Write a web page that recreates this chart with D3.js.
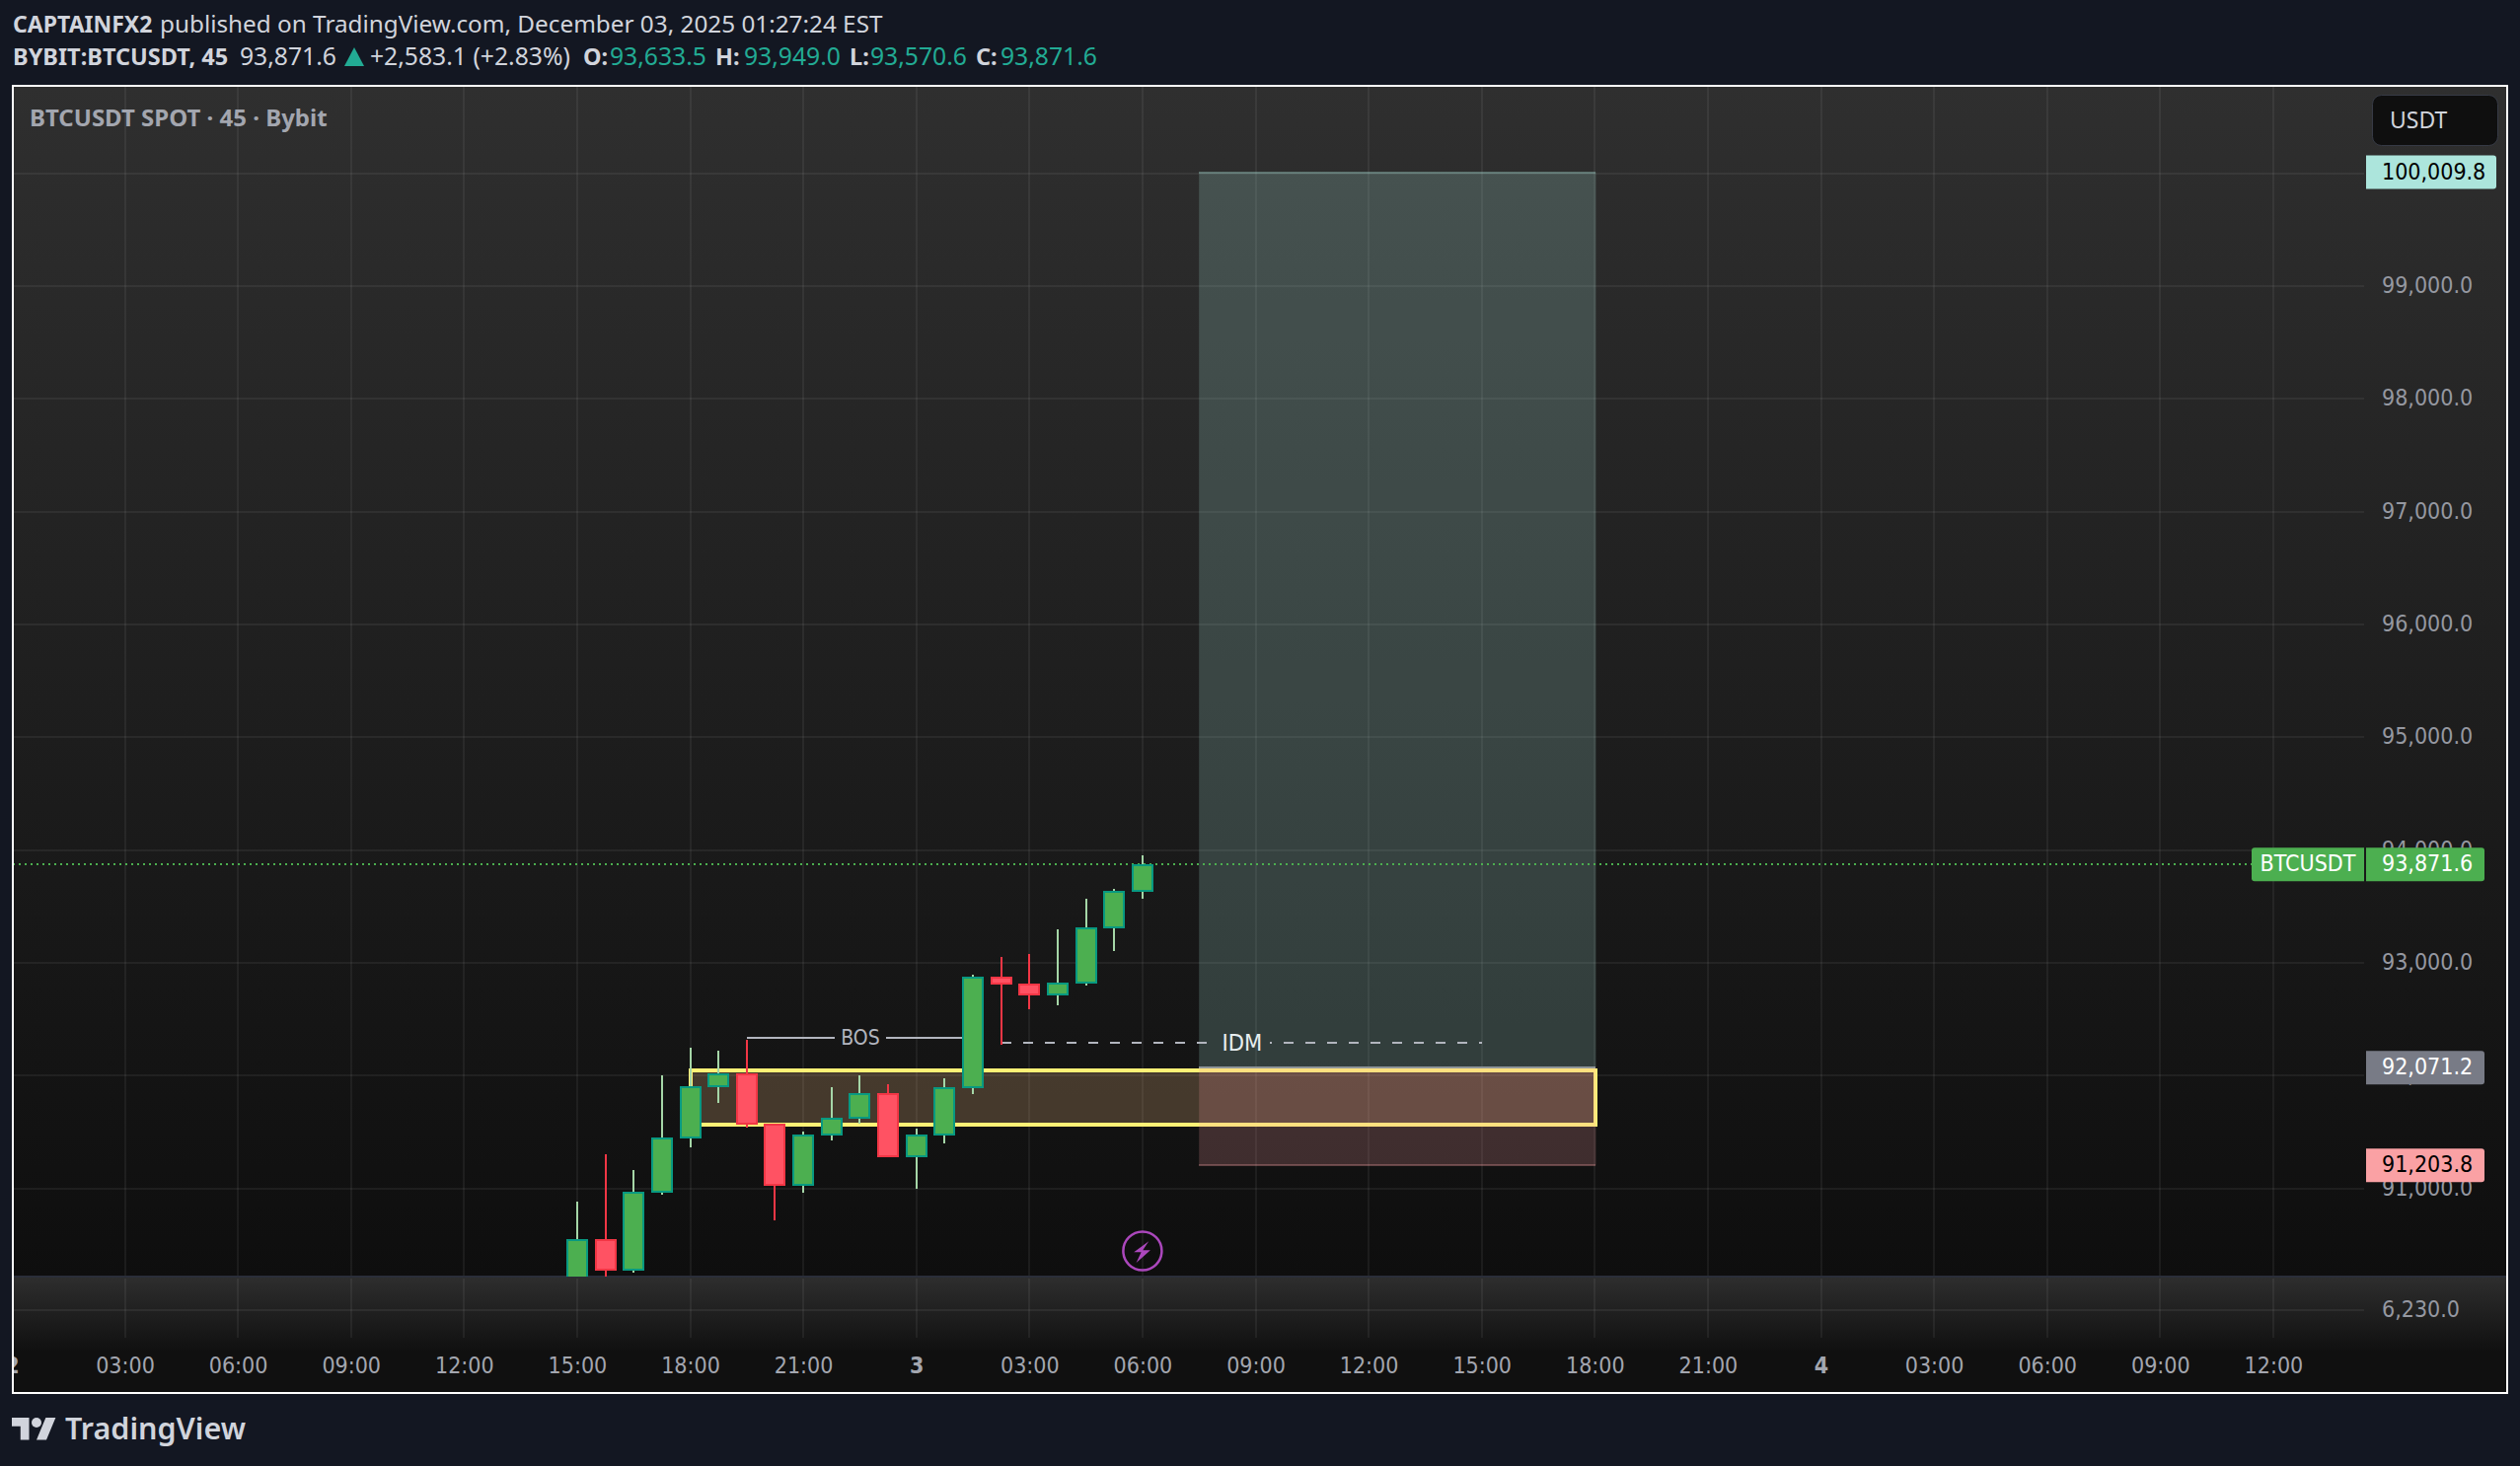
<!DOCTYPE html>
<html>
<head>
<meta charset="utf-8">
<script src="https://cdn.jsdelivr.net/npm/d3@7"></script>
<style>
html, body { margin: 0; padding: 0; background: #131722; overflow: hidden; }
text { font-family: "Noto Sans", sans-serif; }
.axis text, .plabel, .draw { font-family: "DejaVu Sans", sans-serif; font-stretch: condensed; }
.axis text, .plabel { font-size: 23px; }
</style>
</head>
<body>
<div id="chart-area"></div>
<script>
// candles, time = hours since Dec 2 00:00
var candleHours = [15, 15.75, 16.5, 17.25, 18, 18.75, 19.5, 20.25, 21, 21.75, 22.5, 23.25, 24, 24.75, 25.5, 26.25, 27, 27.75, 28.5, 29.25, 30];
var opens  = [90200, 90550, 90270, 90962, 91443, 91898, 92020, 91574, 91023, 91469, 91618, 91845, 91276, 91469, 91889, 92878, 92816, 92711, 92816, 93306, 93633.5];
var highs  = [90883, 91303, 91163, 92003, 92248, 92221, 92318, 91574, 91504, 91898, 92003, 91924, 91530, 91976, 92895, 93052, 93079, 93297, 93569, 93656, 93949.0];
var lows   = [90150, 90200, 90253, 90944, 91364, 91758, 91539, 90717, 90962, 91425, 91574, 91276, 90997, 91399, 91836, 92274, 92589, 92624, 92799, 93105, 93570.6];
var closes = [90550, 90270, 90970, 91451, 91906, 92020, 91565, 91023, 91478, 91626, 91845, 91276, 91478, 91898, 92878, 92808, 92711, 92825, 93315, 93639, 93871.6];

// axes
var priceTicks = [91000, 92000, 93000, 94000, 95000, 96000, 97000, 98000, 99000, 100000];
var paneTicks = [6230];
var timeTicks = [0, 3, 6, 9, 12, 15, 18, 21, 24, 27, 30, 33, 36, 39, 42, 45, 48, 51, 54, 57, 60];
var timeLabels = ["2", "03:00", "06:00", "09:00", "12:00", "15:00", "18:00", "21:00", "3", "03:00", "06:00", "09:00", "12:00", "15:00", "18:00", "21:00", "4", "03:00", "06:00", "09:00", "12:00"];

// drawings
var lastPrice = 93871.6;
var targetPrice = 100009.8, entryPrice = 92071.2, stopPrice = 91203.8;
var positionHours = [31.5, 42.03];
var zonePrices = [92046, 91565], zoneHours = [18, 42.02];
var bosPrice = 92338, bosHours = [19.5, 25.5], bosGapHours = [21.84, 23.2];
var idmPrice = 92294, idmHours = [26.25, 39], idmGapHours = [31.73, 33.38];

var width = 2554, height = 1486;
var frame = {left: 13, right: 2541, top: 87, bottom: 1412};
var paneBottom = 1294, pane2Bottom = 1356, axisLeft = 2396;

var x = d3.scaleLinear().domain([3, 60]).range([126.5, 2303.9]);
var y = d3.scaleLinear().domain([93000, 99000]).range([976, 290]);
var y2 = d3.scaleLinear().domain([6230, 6231]).range([1328, 1327]);

var svg = d3.select("#chart-area")
	.append("svg")
	.attr("width", width)
	.attr("height", height)
	.style("display", "block");

var defs = svg.append("defs");

function gradient(id, stops) {
	var g = defs.append("linearGradient").attr("id", id)
		.attr("x1", 0).attr("x2", 0).attr("y1", 0).attr("y2", 1);
	stops.forEach(function (s) {
		g.append("stop").attr("offset", s[0]).attr("stop-color", s[1]);
	});
}
gradient("paneBg", [[0, "#2f2f2f"], [1, "#0e0e0e"]]);
gradient("pane2Bg", [[0, "#2e2e2e"], [1, "#101010"]]);

defs.append("clipPath").attr("id", "paneClip").append("rect")
	.attr("x", frame.left).attr("y", frame.top)
	.attr("width", axisLeft - frame.left).attr("height", paneBottom - frame.top);
defs.append("clipPath").attr("id", "frameClip").append("rect")
	.attr("x", frame.left).attr("y", frame.top)
	.attr("width", frame.right - frame.left).attr("height", frame.bottom - frame.top);

// header
function label(txt, px, py, size, color, weight) {
	return svg.append("text").attr("x", px).attr("y", py)
		.attr("font-size", size + "px").attr("fill", color)
		.attr("font-weight", weight || 400).text(txt);
}
var headColor = "#d1d4dc", teal = "#22ab94";
label("CAPTAINFX2", 13, 33, 23, headColor, 700);
label("published on TradingView.com, December 03, 2025 01:27:24 EST", 162, 33, 24.3, headColor);
label("BYBIT:BTCUSDT, 45", 13, 66, 23.5, headColor, 700);
label("93,871.6", 243, 66, 24.7, headColor);
svg.append("path").attr("d", "M349,67L359,48L369,67Z").attr("fill", teal);
label("+2,583.1 (+2.83%)", 375, 66, 24.7, headColor);
label("O:", 591, 66, 23.5, headColor, 700);
label("93,633.5", 618, 66, 24.7, teal);
label("H:", 725, 66, 23.5, headColor, 700);
label("93,949.0", 754, 66, 24.7, teal);
label("L:", 861, 66, 23.5, headColor, 700);
label("93,570.6", 882, 66, 24.7, teal);
label("C:", 989, 66, 23.5, headColor, 700);
label("93,871.6", 1014, 66, 24.7, teal);

// backgrounds
svg.append("rect").attr("x", frame.left).attr("y", frame.top)
	.attr("width", frame.right - frame.left).attr("height", paneBottom - frame.top)
	.attr("fill", "url(#paneBg)");
svg.append("rect").attr("x", frame.left).attr("y", paneBottom)
	.attr("width", frame.right - frame.left).attr("height", 76)
	.attr("fill", "url(#pane2Bg)");
svg.append("rect").attr("x", frame.left).attr("y", paneBottom + 76)
	.attr("width", frame.right - frame.left).attr("height", frame.bottom - paneBottom - 76)
	.attr("fill", "#101010");
svg.append("rect").attr("x", frame.left).attr("y", paneBottom - 1)
	.attr("width", frame.right - frame.left).attr("height", 2)
	.attr("fill", "#2a2e39");

// grid
var gridColor = "rgba(255,255,255,0.06)";
var grid = svg.append("g").attr("clip-path", "url(#frameClip)").attr("shape-rendering", "crispEdges");
grid.selectAll(".vgrid").data(timeTicks).enter().append("line")
	.attr("x1", function (d) { return x(d); }).attr("x2", function (d) { return x(d); })
	.attr("y1", frame.top).attr("y2", paneBottom - 1)
	.attr("stroke", gridColor).attr("stroke-width", 2);
grid.selectAll(".vgrid2").data(timeTicks).enter().append("line")
	.attr("x1", function (d) { return x(d); }).attr("x2", function (d) { return x(d); })
	.attr("y1", paneBottom + 2).attr("y2", pane2Bottom)
	.attr("stroke", gridColor).attr("stroke-width", 2);
grid.selectAll(".hgrid").data(priceTicks).enter().append("line")
	.attr("x1", frame.left).attr("x2", axisLeft)
	.attr("y1", function (d) { return y(d); }).attr("y2", function (d) { return y(d); })
	.attr("stroke", gridColor).attr("stroke-width", 2);
grid.selectAll(".hgrid2").data(paneTicks).enter().append("line")
	.attr("x1", frame.left).attr("x2", axisLeft)
	.attr("y1", function (d) { return y2(d); }).attr("y2", function (d) { return y2(d); })
	.attr("stroke", gridColor).attr("stroke-width", 2);

// price and time axes
var priceFormat = d3.format(",.1f");
function styleAxis(g) {
	g.select(".domain").remove();
	g.selectAll("text").attr("fill", "#9598a1");
}
svg.append("g").attr("class", "axis")
	.attr("transform", "translate(" + axisLeft + ",0)")
	.call(d3.axisRight(y).tickValues(priceTicks).tickFormat(priceFormat).tickSize(0).tickPadding(18))
	.call(styleAxis)
	.selectAll("text").attr("dy", "0.28em");
svg.append("g").attr("class", "axis")
	.attr("transform", "translate(" + axisLeft + ",0)")
	.call(d3.axisRight(y2).tickValues(paneTicks).tickFormat(priceFormat).tickSize(0).tickPadding(18))
	.call(styleAxis)
	.selectAll("text").attr("dy", "0.28em");
var timeAxis = svg.append("g").attr("clip-path", "url(#frameClip)")
	.append("g").attr("class", "axis")
	.attr("transform", "translate(0," + pane2Bottom + ")")
	.call(d3.axisBottom(x).tickValues(timeTicks).tickFormat(function (d, i) { return timeLabels[i]; }).tickSize(0).tickPadding(20))
	.call(styleAxis);
timeAxis.selectAll("text")
	.attr("font-weight", function (d, i) { return timeLabels[i].length == 1 ? 700 : 400; })
	.attr("fill", "#a3a6af");

// chart drawings, clipped to the main pane
var chart = svg.append("g").attr("clip-path", "url(#paneClip)");

// yellow zone
chart.append("rect")
	.attr("x", x(zoneHours[0]))
	.attr("y", y(zonePrices[0]))
	.attr("width", x(zoneHours[1]) - x(zoneHours[0]))
	.attr("height", y(zonePrices[1]) - y(zonePrices[0]))
	.attr("fill", "rgba(250,195,135,0.22)")
	.attr("stroke", "#fff176")
	.attr("stroke-width", 4)
	.attr("shape-rendering", "crispEdges");

// position tool
var px0 = x(positionHours[0]), px1 = x(positionHours[1]);
chart.append("rect").attr("x", px0).attr("width", px1 - px0)
	.attr("y", y(targetPrice)).attr("height", y(entryPrice) - y(targetPrice))
	.attr("fill", "rgba(172,229,220,0.2)");
chart.append("rect").attr("x", px0).attr("width", px1 - px0)
	.attr("y", y(entryPrice)).attr("height", y(stopPrice) - y(entryPrice))
	.attr("fill", "rgba(250,161,164,0.2)");
chart.selectAll(".posline").data([[targetPrice, "rgba(172,229,220,0.3)"], [entryPrice, "#8f9598"], [stopPrice, "rgba(250,161,164,0.3)"]])
	.enter().append("line")
	.attr("x1", px0).attr("x2", px1)
	.attr("y1", function (d) { return y(d[0]); }).attr("y2", function (d) { return y(d[0]); })
	.attr("stroke", function (d) { return d[1]; }).attr("stroke-width", 2)
	.attr("shape-rendering", "crispEdges");

// BOS and IDM lines
function segment(h0, h1, price, color, startH) {
	var l = chart.append("line")
		.attr("x1", x(h0)).attr("x2", x(h1))
		.attr("y1", y(price)).attr("y2", y(price))
		.attr("stroke", color).attr("stroke-width", 2)
		.attr("shape-rendering", "crispEdges");
	// keep the dash phase running through the gap
	if (startH !== undefined) {
		l.attr("stroke-dasharray", "10 12").attr("stroke-dashoffset", (x(h0) - x(startH)) % 22);
	}
}
segment(bosHours[0], bosGapHours[0], bosPrice, "#b2b5be");
segment(bosGapHours[1], bosHours[1], bosPrice, "#b2b5be");
segment(idmHours[0], idmGapHours[0], idmPrice, "#b2b5be", idmHours[0]);
segment(idmGapHours[1], idmHours[1], idmPrice, "#b2b5be", idmHours[0]);
chart.append("text").attr("class", "draw").attr("x", 872).attr("y", y(bosPrice) + 7)
	.attr("text-anchor", "middle").attr("font-size", "21px").attr("fill", "#b2b5be").text("BOS");
chart.append("text").attr("class", "draw").attr("x", 1259).attr("y", y(idmPrice) + 8)
	.attr("text-anchor", "middle").attr("font-size", "23.5px").attr("fill", "#e8eef0").text("IDM");

// last price line
chart.append("line")
	.attr("x1", frame.left).attr("x2", axisLeft)
	.attr("y1", Math.round(y(lastPrice))).attr("y2", Math.round(y(lastPrice)))
	.attr("stroke", "#4caf50").attr("stroke-width", 2).attr("stroke-dasharray", "2 4")
	.attr("shape-rendering", "crispEdges");

// candles
var candles = candleHours.map(function (h, i) {
	return {h: h, o: opens[i], hi: highs[i], lo: lows[i], c: closes[i], up: closes[i] >= opens[i]};
});
var bodyW = 22;
var candleG = chart.append("g").attr("shape-rendering", "crispEdges");
candleG.selectAll(".wick").data(candles).enter().append("line")
	.attr("x1", function (d) { return x(d.h); }).attr("x2", function (d) { return x(d.h); })
	.attr("y1", function (d) { return y(d.hi); }).attr("y2", function (d) { return y(d.lo); })
	.attr("stroke", function (d) { return d.up ? "#a5d6a7" : "#f23645"; })
	.attr("stroke-width", 2);
candleG.selectAll(".body").data(candles).enter().append("rect")
	.attr("x", function (d) { return x(d.h) - bodyW / 2 + 1; })
	.attr("width", bodyW - 2)
	.attr("y", function (d) { return y(Math.max(d.o, d.c)) + 1; })
	.attr("height", function (d) { return Math.abs(y(d.o) - y(d.c)) - 2; })
	.attr("fill", function (d) { return d.up ? "#4caf50" : "#ff5263"; })
	.attr("stroke", function (d) { return d.up ? "#089981" : "#f23645"; })
	.attr("stroke-width", 2);

// lightning badge
var badge = chart.append("g").attr("transform", "translate(" + x(30) + ",1268)");
badge.append("circle").attr("r", 19.5).attr("fill", "none").attr("stroke", "#ab47bc").attr("stroke-width", 2.5);
badge.append("path").attr("d", "M6.3,-9.7L-8.7,1.3L-1.3,1.3L-6.3,12L8,-0.7L0.3,-0.7Z").attr("fill", "#ab47bc");

// pane legend and currency button
label("BTCUSDT SPOT · 45 · Bybit", 30, 128, 24, "#a3a6af", 700);
svg.append("rect").attr("x", 2404.5).attr("y", 96.5).attr("width", 127).attr("height", 51).attr("rx", 9)
	.attr("fill", "#0f0f0f").attr("stroke", "#363a45").attr("stroke-width", 1);
label("USDT", 2422, 130, 23, "#d1d4dc");

// price labels
var priceLabels = [
	{v: targetPrice, w: 132, fill: "#ace5dc", color: "#000000"},
	{v: lastPrice, w: 120, fill: "#4caf50", color: "#ffffff"},
	{v: entryPrice, w: 120, fill: "#787b86", color: "#ffffff"},
	{v: stopPrice, w: 120, fill: "#faa1a4", color: "#000000"}
];
var labelH = 34;
function rightTag(px, py, w, r) {
	return "M" + px + "," + py + "h" + (w - r) + "a" + r + "," + r + " 0 0 1 " + r + "," + r +
		"v" + (labelH - 2 * r) + "a" + r + "," + r + " 0 0 1 " + (-r) + "," + r + "h" + (r - w) + "Z";
}
var tags = svg.selectAll(".tag").data(priceLabels).enter().append("g");
tags.append("path")
	.attr("d", function (d) { return rightTag(2398, y(d.v) - labelH / 2, d.w, 3); })
	.attr("fill", function (d) { return d.fill; });
tags.append("text").attr("class", "plabel")
	.attr("x", 2414).attr("y", function (d) { return y(d.v) + 7; })
	.attr("fill", function (d) { return d.color; })
	.text(function (d) { return priceFormat(d.v); });

// symbol tag left of the last price
var ly = y(lastPrice) - labelH / 2;
svg.append("path")
	.attr("d", "M2396," + ly + "h-111a3,3 0 0 0 -3,3v" + (labelH - 6) + "a3,3 0 0 0 3,3h111Z")
	.attr("fill", "#4caf50");
svg.append("text").attr("class", "plabel").attr("x", 2339).attr("y", y(lastPrice) + 7)
	.attr("text-anchor", "middle").attr("fill", "#ffffff").text("BTCUSDT");

// frame
svg.append("rect").attr("x", frame.left).attr("y", frame.top)
	.attr("width", frame.right - frame.left).attr("height", frame.bottom - frame.top)
	.attr("fill", "none").attr("stroke", "#ffffff").attr("stroke-width", 2);

// logo
var logo = svg.append("g").attr("transform", "translate(12,1432) scale(1.25)").attr("fill", "#d1d4dc");
logo.append("path").attr("d", "M14 22H7V11H0V4h14v18zM28 22h-8l7.5-18h8L28 22z");
logo.append("circle").attr("cx", 20).attr("cy", 8).attr("r", 4);
label("TradingView", 66, 1459, 30.5, "#d1d4dc", 600);
</script>
</body>
</html>
